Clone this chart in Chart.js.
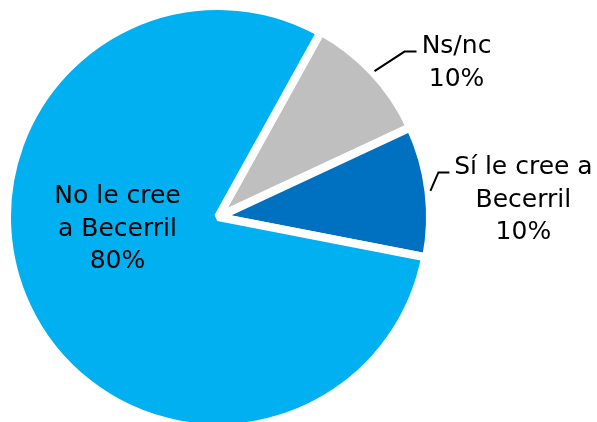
<!DOCTYPE html>
<html>
<head>
<meta charset="utf-8">
<script src="https://cdn.jsdelivr.net/npm/chart.js@4"></script>
<style>
  html, body { margin: 0; padding: 0; background: #fff; overflow: hidden; }
  #wrap { width: 597px; height: 422px; position: relative; }
</style>
</head>
<body>
<div id="wrap"><canvas id="c" width="597" height="422"></canvas></div>
<script>
// ---- data ----
const categories = ['Ns/nc', 'Sí le cree a Becerril', 'No le cree a Becerril'];
const labelText = [['Ns/nc'], ['Sí le cree a', 'Becerril'], ['No le cree', 'a Becerril']];
const values = [10, 10, 80];
const colors = ['#BFBFBF', '#0070C0', '#00B0F0'];

// ---- label layout (styling, not data) ----
const FONT = '25px "DejaVu Sans"';
const LINE_H = 32.5;
const labelLayout = [
  { mode: 'outside', elbow: [30, -19.5], run: 12, textDx: 40, textDy: 1.7 },
  { mode: 'outside', elbow: [8, -18.5], run: 11, textDx: 74, textDy: 1.7 },
  { mode: 'inside', dx: -100.5, dy: -13.7 }
];

const labelPlugin = {
  id: 'pieLabels',
  afterDatasetsDraw(chart) {
    const ctx = chart.ctx;
    const meta = chart.getDatasetMeta(0);
    ctx.save();
    ctx.font = FONT;
    ctx.fillStyle = '#000';
    ctx.strokeStyle = '#000';
    ctx.lineWidth = 2;
    ctx.textAlign = 'center';
    ctx.textBaseline = 'alphabetic';
    meta.data.forEach((arc, i) => {
      const lines = labelText[i].concat([values[i] + '%']);
      const L = labelLayout[i];
      const mid = (arc.startAngle + arc.endAngle) / 2;
      const cx = meta.data[2].x, cy = meta.data[2].y;
      if (L.mode === 'outside') {
        const r = arc.outerRadius + 3;
        const sx = cx + Math.cos(mid) * r;
        const sy = cy + Math.sin(mid) * r;
        const ex = sx + L.elbow[0], ey = sy + L.elbow[1];
        const hx = ex + L.run;
        ctx.beginPath();
        ctx.moveTo(sx, sy);
        ctx.lineTo(ex, ey);
        ctx.lineTo(hx, ey);
        ctx.stroke();
        lines.forEach((t, k) => ctx.fillText(t, hx + L.textDx, ey + L.textDy + k * LINE_H));
      } else {
        lines.forEach((t, k) => ctx.fillText(t, cx + L.dx, cy + L.dy + k * LINE_H));
      }
    });
    ctx.restore();
  }
};

new Chart(document.getElementById('c'), {
  type: 'pie',
  data: {
    labels: categories,
    datasets: [{
      data: values,
      backgroundColor: colors,
      borderColor: '#FFFFFF',
      borderWidth: 8,
      offset: [3, 3, 0],
      radius: 211,
      clip: false
    }]
  },
  options: {
    responsive: false,
    animation: false,
    devicePixelRatio: 1,
    rotation: 29,
    layout: { padding: { left: 0, right: 161, top: 12, bottom: 0 } },
    plugins: {
      legend: { display: false },
      tooltip: { enabled: false },
      title: { display: false }
    }
  },
  plugins: [labelPlugin]
});
</script>
</body>
</html>
